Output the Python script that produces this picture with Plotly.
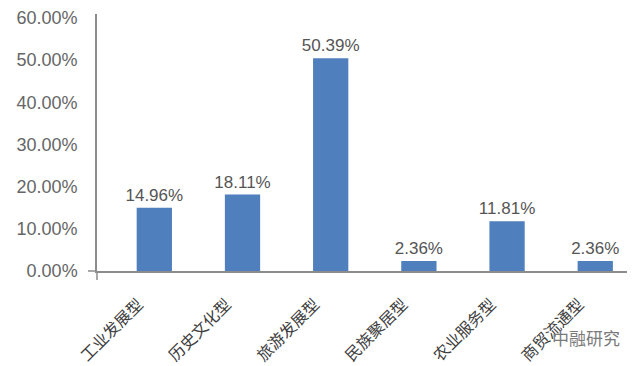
import plotly.graph_objects as go

categories = ["工业发展型", "历史文化型", "旅游发展型", "民族聚居型", "农业服务型", "商贸流通型"]
values = [14.96, 18.11, 50.39, 2.36, 11.81, 2.36]
tick_vals = [0, 10, 20, 30, 40, 50, 60]
tick_text = ["0.00%", "10.00%", "20.00%", "30.00%", "40.00%", "50.00%", "60.00%"]
labels = [f"{v:.2f}%" for v in values]

font_main = "Liberation Sans, Arial, Noto Sans CJK SC, sans-serif"
axis_color = "#8c8c8c"

fig = go.Figure()
fig.add_trace(go.Bar(
    x=list(range(len(categories))),
    y=values,
    text=labels,
    textposition="outside",
    constraintext="none",
    cliponaxis=False,
    textfont=dict(size=17, color="#555555", family=font_main),
    marker=dict(color="#4f7fbc", line=dict(width=0)),
    width=0.4,
    hoverinfo="skip",
))

fig.update_layout(
    width=640, height=366,
    margin=dict(l=97, r=13, t=14, b=95, autoexpand=False),
    paper_bgcolor="white", plot_bgcolor="white",
    showlegend=False,
    font=dict(family=font_main, color="#555555"),
    xaxis=dict(
        range=[-0.65, 5.36],
        tickmode="array",
        tickvals=list(range(len(categories))),
        ticktext=categories,
        tickangle=-45,
        tickfont=dict(size=16, color="#404040", family="Noto Sans CJK SC, sans-serif"),
        showline=True, linecolor=axis_color, linewidth=1.5,
        showgrid=False, zeroline=False, ticks="",
        ticklabelstandoff=16,
        ticklabelshift=-16,
        automargin=False,
    ),
    yaxis=dict(
        range=[0, 60.9],
        tickmode="array",
        tickvals=tick_vals,
        ticktext=tick_text,
        tickfont=dict(size=18, color="#666666", family=font_main),
        showline=True, linecolor=axis_color, linewidth=1.5,
        showgrid=False, zeroline=False, ticks="",
        ticklabelstandoff=14,
        automargin=False,
    ),
    shapes=[
        dict(type="line", xref="x domain", yref="y domain",
             x0=-0.017, x1=0, y0=0, y1=0,
             line=dict(color=axis_color, width=1.5)),
        dict(type="line", xref="x domain", yref="y domain",
             x0=0, x1=0, y0=0, y1=-0.035,
             line=dict(color=axis_color, width=1.5)),
    ],
    annotations=[
        dict(text="中融研究", xref="paper", yref="paper", x=0.99, y=-0.26,
             xanchor="right", yanchor="middle", showarrow=False,
             font=dict(size=17, color="#7a7a7a", family="Noto Sans CJK SC, sans-serif")),
    ],
)

fig.write_html("out.html")
